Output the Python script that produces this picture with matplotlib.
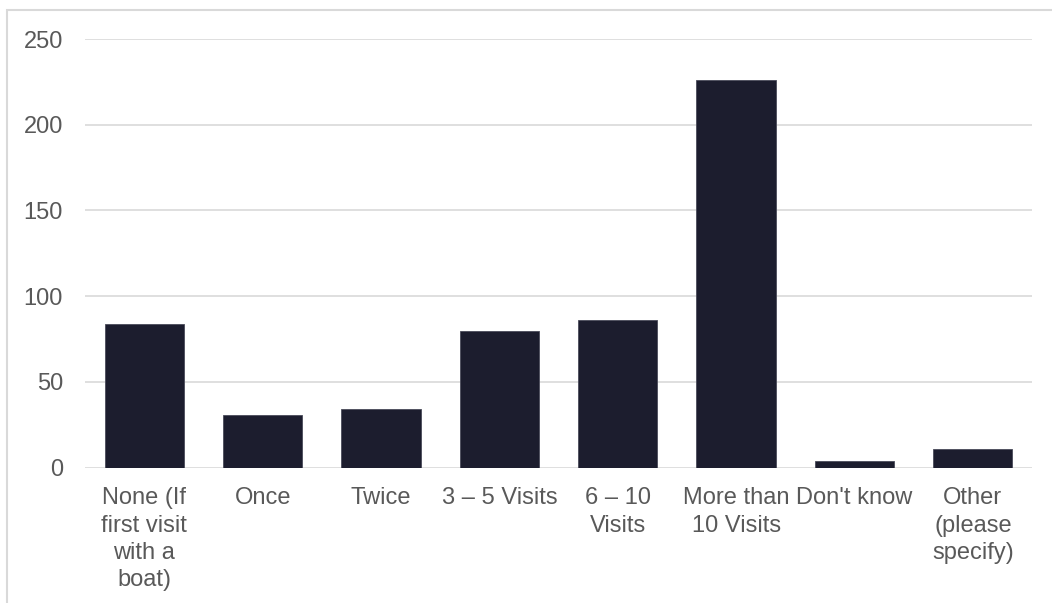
import numpy as np
import matplotlib.pyplot as plt
from matplotlib.patches import Rectangle

plt.rcParams['font.family'] = ['Liberation Sans', 'DejaVu Sans']

# survey responses: number of previous visits
categories = ['None (If\nfirst visit\nwith a\nboat)', 'Once', 'Twice', '3 – 5 Visits',
              '6 – 10\nVisits', 'More than\n10 Visits', "Don't know", 'Other\n(please\nspecify)']
counts = [84, 31, 34, 80, 86, 226, 4, 11]
yticks = [0, 50, 100, 150, 200, 250]

bar_color = '#1c1d2e'
text_color = '#595959'
grid_color = '#d9d9d9'

fig = plt.figure(figsize=(10.52, 6.03), dpi=100)
ax = fig.add_axes([0.081, 0.2244, 0.9, 0.7109])

x = np.arange(len(categories))
ax.bar(x, counts, width=0.67, color=bar_color, edgecolor='#4a4b5a', linewidth=0.6, zorder=3)

ax.set_xlim(-0.5, len(categories) - 0.5)
ax.set_ylim(0, 250)
ax.set_yticks(yticks)
ax.set_xticks(x)
ax.set_xticklabels(categories, fontsize=17, color=text_color, linespacing=1.32)
ax.tick_params(axis='y', labelsize=17, labelcolor=text_color, length=0, pad=16)
ax.tick_params(axis='x', length=0, pad=14)

ax.grid(axis='y', color=grid_color, linewidth=1.2, zorder=0)
for s in ax.spines.values():
    s.set_visible(False)

# light frame around the chart, running off the right and bottom edges
fig.patches.append(Rectangle((7 / 1052, -0.05), 1.1, 1 - 10 / 603 + 0.05,
                             transform=fig.transFigure, fill=False,
                             edgecolor='#d9d9d9', linewidth=1.5))

fig.savefig('out.png', dpi=100)
